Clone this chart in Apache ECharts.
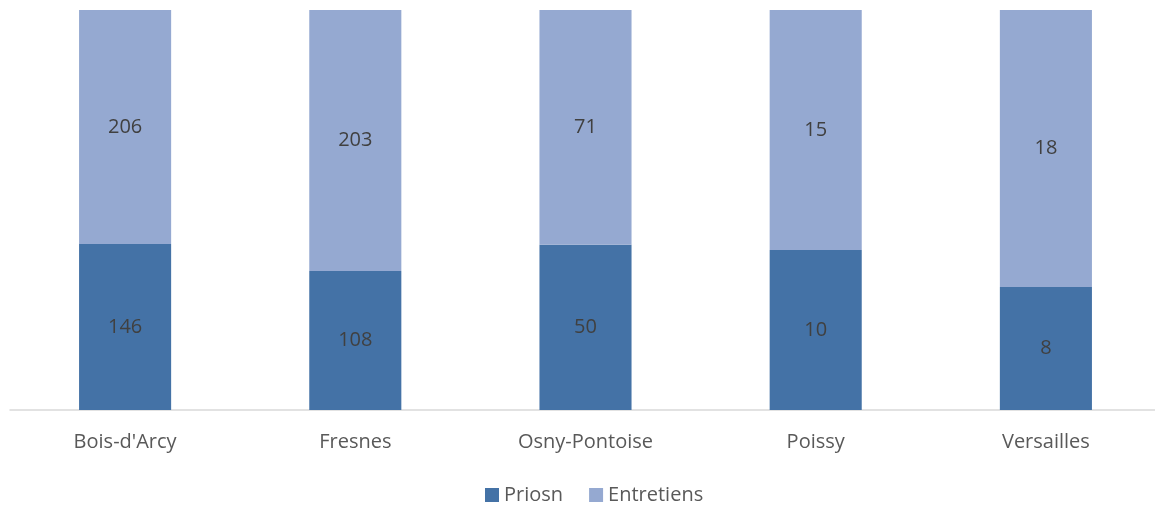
<!DOCTYPE html>
<html>
<head>
<meta charset="utf-8">
<script src="https://cdn.jsdelivr.net/npm/echarts@6/dist/echarts.min.js"></script>
<style>
html, body { margin: 0; padding: 0; background: #fff; overflow: hidden; }
#chart { width: 1161px; height: 507px; }
</style>
</head>
<body>
<div id="chart"></div>
<script>
var categories = ['Bois-d\'Arcy', 'Fresnes', 'Osny-Pontoise', 'Poissy', 'Versailles'];
var priosn = [146, 108, 50, 10, 8];
var entretiens = [206, 203, 71, 15, 18];

var FontFamily = '"Open Sans", sans-serif';

// 100% stacked: heights are shares, labels show raw counts
function shares(values, other) {
    return values.map(function (v, i) {
        return { value: v / (v + other[i]), raw: v };
    });
}

var labelStyle = {
    show: true,
    position: 'inside',
    color: '#404040',
    fontSize: 20,
    fontFamily: FontFamily,
    formatter: function (p) { return p.data.raw; }
};

var option = {
    animation: false,
    grid: { left: 10, right: 0, top: 10, bottom: 97 },
    legend: {
        data: ['Priosn', 'Entretiens'],
        bottom: -3,
        left: 480,
        itemWidth: 14,
        itemHeight: 14,
        itemGap: 26,
        icon: 'rect',
        textStyle: { color: '#595959', fontSize: 20, fontFamily: FontFamily }
    },
    xAxis: {
        type: 'category',
        data: categories,
        axisLine: { lineStyle: { color: '#d9d9d9', width: 1.5 } },
        axisTick: { show: false },
        axisLabel: { color: '#595959', fontSize: 20, fontFamily: FontFamily, margin: 22 }
    },
    yAxis: {
        type: 'value',
        min: 0,
        max: 1,
        show: false,
        splitLine: { show: false }
    },
    series: [
        {
            name: 'Priosn',
            type: 'bar',
            stack: 'total',
            barWidth: '40%',
            itemStyle: { color: '#4472a6' },
            label: labelStyle,
            data: shares(priosn, entretiens)
        },
        {
            name: 'Entretiens',
            type: 'bar',
            stack: 'total',
            barWidth: '40%',
            itemStyle: { color: '#95a9d1' },
            label: labelStyle,
            data: shares(entretiens, priosn)
        }
    ]
};

var chart = echarts.init(document.getElementById('chart'));
chart.setOption(option);
</script>
</body>
</html>
